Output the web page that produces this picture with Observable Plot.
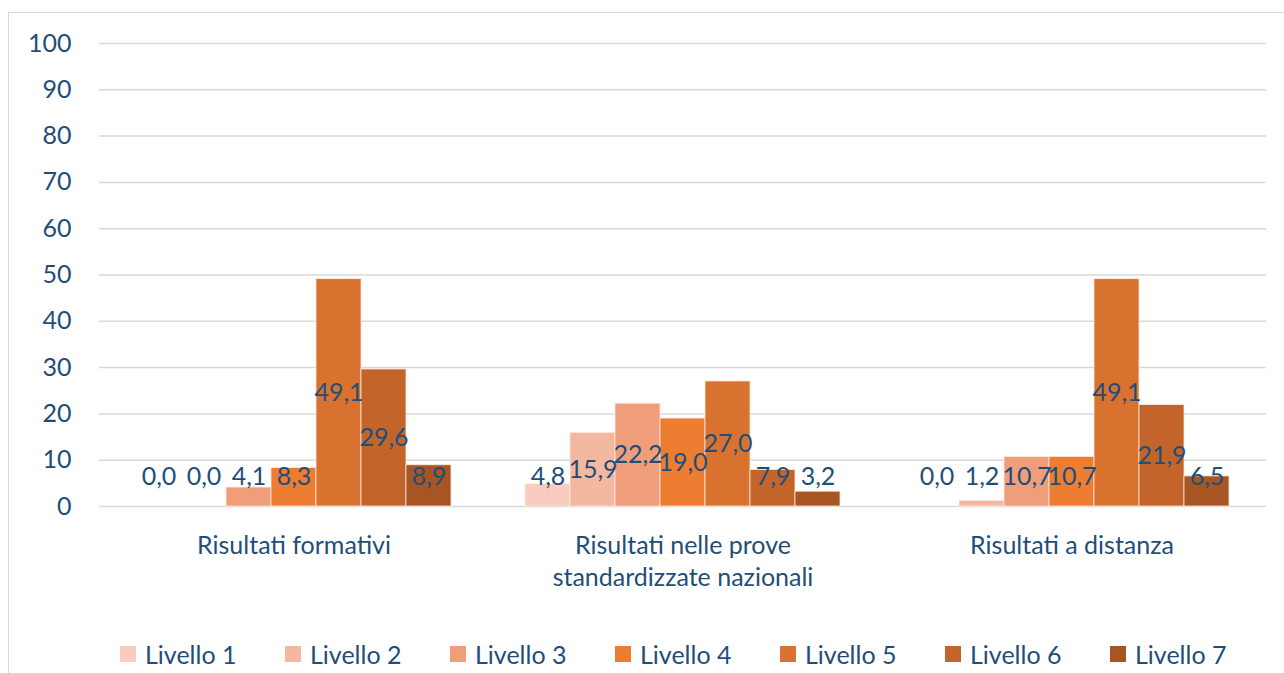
<!DOCTYPE html>
<html><head><meta charset="utf-8">
<script src="https://cdn.jsdelivr.net/npm/d3@7"></script>
<script src="https://cdn.jsdelivr.net/npm/@observablehq/plot@0.6"></script>
<style>
body{margin:0;background:#fff;font-family:Lato,"Open Sans",sans-serif;}
#frame{position:absolute;left:8px;top:12px;width:1290px;height:670px;border:1px solid #d9d9d9;}
#chart{position:absolute;left:0;top:0;}
#legend{position:absolute;left:120px;top:639px;display:flex;}
.item{width:165px;display:flex;align-items:center;font-size:25px;color:#1f4e79;}
.sw{width:16px;height:16px;margin-right:9px;}
</style></head>
<body>
<div id="frame"></div>
<div id="chart"></div>
<div id="legend"></div>
<script>
const categories = ["Risultati formativi", "Risultati nelle prove\nstandardizzate nazionali", "Risultati a distanza"];
const levels = ["Livello 1","Livello 2","Livello 3","Livello 4","Livello 5","Livello 6","Livello 7"];
const colors = ["#f8cdbf","#f4b8a1","#ef9e79","#ed7d31","#d9722e","#c3652a","#a65523"];
const formativi = [0.0, 0.0, 4.1, 8.3, 49.1, 29.6, 8.9];
const prove = [4.8, 15.9, 22.2, 19.0, 27.0, 7.9, 3.2];
const distanza = [0.0, 1.2, 10.7, 10.7, 49.1, 21.9, 6.5];
const yTicks = [0,10,20,30,40,50,60,70,80,90,100];

const series = [formativi, prove, distanza];
const data = [];
categories.forEach((c, i) => levels.forEach((l, j) => data.push({cat: c, level: l, value: series[i][j]})));

const textColor = "#1f4e79";
const FS = 25;
const chart = Plot.plot({
  width: 1284, height: 600,
  marginLeft: 98, marginRight: 17, marginTop: 43, marginBottom: 94,
  style: {fontFamily: "Lato, 'Open Sans', sans-serif", fontSize: FS + "px", color: textColor, background: "transparent"},
  fx: {domain: categories, padding: 0, label: null, axis: null},
  x: {domain: levels, paddingInner: 0, paddingOuter: 0.74, axis: null},
  y: {domain: [0, 100], ticks: yTicks, label: null, axis: null},
  color: {domain: levels, range: colors},
  marks: [
    Plot.ruleY(yTicks, {stroke: "#d9d9d9", strokeWidth: 1.5}),
    Plot.barY(data, {fx: "cat", x: "level", y: "value", fill: "level", stroke: "#fbe9e1", strokeWidth: 0.8}),
    Plot.text(data, {fx: "cat", x: "level", y: d => Math.max(d.value / 2, 6.3),
      text: d => d.value.toFixed(1).replace(".", ","), fill: textColor, fontSize: FS}),
    Plot.axisFx({anchor: "bottom", tickSize: 0, tickPadding: 24, lineHeight: 1.3, label: null, fontSize: FS, fill: textColor}),
    Plot.axisY({ticks: yTicks, tickSize: 0, tickPadding: 28, label: null, fontSize: FS, fill: textColor})
  ]
});
document.getElementById("chart").appendChild(chart);

const leg = document.getElementById("legend");
levels.forEach((l, i) => {
  const it = document.createElement("div"); it.className = "item";
  const sw = document.createElement("div"); sw.className = "sw"; sw.style.background = colors[i];
  const t = document.createElement("span"); t.textContent = l;
  it.appendChild(sw); it.appendChild(t); leg.appendChild(it);
});
</script>
</body></html>
